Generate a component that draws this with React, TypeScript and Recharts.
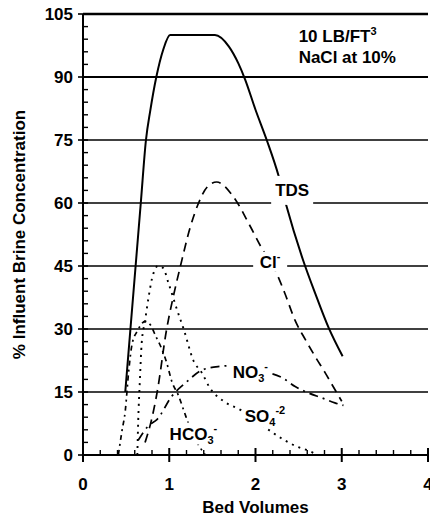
import React from 'react';
import {
  LineChart,
  Line,
  XAxis,
  YAxis,
  ReferenceLine,
  ReferenceDot,
  Label,
} from 'recharts';

// bed volumes (x) and % of influent brine concentration (y)
const tdsX = [0.49, 0.55, 0.61, 0.67, 0.73, 0.78, 0.85, 0.93, 1.01, 1.53, 1.69, 1.8, 1.88, 2.0, 2.13, 2.27, 2.36, 2.55, 2.69, 2.85, 3.01];
const tdsY = [15, 30, 45, 60, 75, 82, 90, 96.5, 100, 100, 97.3, 93.3, 89.4, 82.2, 75, 66.3, 59.2, 46.5, 38.6, 30.2, 23.5];

const clX = [0.72, 0.79, 0.86, 0.97, 1.05, 1.13, 1.24, 1.34, 1.44, 1.55, 1.74, 1.94, 2.06, 2.25, 2.34, 2.46, 2.58, 2.69, 2.81, 2.9, 3.0];
const clY = [3, 8, 15, 30, 38, 45, 54, 60, 63.8, 65, 61.6, 54.4, 49.7, 43, 38.5, 32, 27.4, 23.5, 19.5, 16.3, 12.8];

const no3X = [0.64, 0.76, 0.86, 1.03, 1.19, 1.39, 1.59, 1.75, 2.0, 2.31, 2.46, 2.61, 2.77, 2.92, 3.02];
const no3Y = [3.5, 7, 8.5, 14, 17.2, 20.3, 21.1, 21.3, 20.2, 18.4, 16.3, 14.8, 13.6, 12.4, 11.8];

const so4X = [0.63, 0.64, 0.66, 0.68, 0.72, 0.76, 0.8, 0.87, 0.93, 0.99, 1.09, 1.17, 1.28, 1.38, 1.47, 1.63, 1.82, 2.05, 2.29, 2.48, 2.63, 2.72];
const so4Y = [0, 8, 18, 26.5, 32, 37.5, 42, 45, 44.5, 41, 34.6, 29.8, 22.5, 19.5, 16, 12.8, 10.8, 7.5, 4.1, 2, 0.9, 0];

const hco3X = [0.41, 0.45, 0.49, 0.53, 0.57, 0.63, 0.72, 0.78, 0.85, 0.9, 0.97, 1.03, 1.11, 1.17, 1.25, 1.35, 1.42];
const hco3Y = [0, 5.5, 10.5, 20, 26.5, 29.5, 31.8, 31, 28, 25.9, 22, 17.5, 14, 10.5, 6, 2, 0];

const xTicks = [0, 0.2, 0.4, 0.6, 0.8, 1, 1.2, 1.4, 1.6, 1.8, 2, 2.2, 2.4, 2.6, 2.8, 3, 3.2, 3.4, 3.6, 3.8, 4];
const yTicks = [0, 3, 6, 9, 12, 15, 18, 21, 24, 27, 30, 33, 36, 39, 42, 45, 48, 51, 54, 57, 60, 63, 66, 69, 72, 75, 78, 81, 84, 87, 90, 93, 96, 99, 102, 105];
const thinGrid = [15, 30, 45, 60, 75];
const boldGrid = [90];

const toPoints = (xs: number[], ys: number[]) => xs.map((x, i) => ({ x, y: ys[i] }));

const FONT = "'Liberation Sans', Arial, Helvetica, sans-serif";
const TICK = '#000';

// minor ticks point inward, majors cross the axis and carry the label
function YTick(props: any) {
  const { x, y, payload } = props;
  const v = payload.value;
  if (v % 15 !== 0) {
    return <line x1={x} x2={x + 5} y1={y} y2={y} stroke={TICK} strokeWidth={1.4} />;
  }
  return (
    <g>
      <line x1={x - 5} x2={x + 5} y1={y} y2={y} stroke={TICK} strokeWidth={1.6} />
      <text x={x - 10} y={y + 6} textAnchor="end" fontFamily={FONT} fontWeight="bold" fontSize={17} fill="#000">
        {v}
      </text>
    </g>
  );
}

function XTick(props: any) {
  const { x, y, payload } = props;
  const v = payload.value;
  if (!Number.isInteger(v)) {
    return <line x1={x} x2={x} y1={y - 5} y2={y} stroke={TICK} strokeWidth={1.4} />;
  }
  return (
    <g>
      <line x1={x} x2={x} y1={y - 7} y2={y + 7} stroke={TICK} strokeWidth={2} />
      <text x={x} y={y + 35} textAnchor="middle" fontFamily={FONT} fontWeight="bold" fontSize={17} fill="#000">
        {v}
      </text>
    </g>
  );
}

// white-backed series name sitting on its curve
const tag = (w: number, h: number, content: React.ReactNode) => (p: any) => (
  <g>
    <rect x={p.cx - w / 2} y={p.cy - h / 2} width={w} height={h} fill="#fff" />
    <text x={p.cx} y={p.cy + 6} textAnchor="middle" fontFamily={FONT} fontWeight="bold" fontSize={17} fill="#000">
      {content}
    </text>
  </g>
);

const note = (p: any) => (
  <g fontFamily={FONT} fontWeight="bold" fontSize={17} fill="#000">
    <text x={p.cx} y={p.cy - 4}>
      10 LB/FT<tspan dy={-7} fontSize={11}>3</tspan>
    </text>
    <text x={p.cx} y={p.cy + 17}>NaCl at 10%</text>
  </g>
);

export default function App() {
  return (
    <div style={{ position: 'absolute', left: 0, top: 0, width: 430, height: 517, background: '#fff' }}>
      <LineChart width={430} height={517} margin={{ top: 14, right: 2, left: 0, bottom: 0 }}>
        <XAxis
          dataKey="x"
          type="number"
          domain={[0, 4]}
          ticks={xTicks}
          interval={0}
          height={62}
          tickSize={0}
          tickMargin={0}
          tickLine={false}
          axisLine={{ stroke: '#000', strokeWidth: 2 }}
          tick={(p: any) => <XTick {...p} />}
        >
          <Label
            content={({ viewBox }: any) => (
              <text
                x={viewBox.x + viewBox.width / 2}
                y={viewBox.y + viewBox.height - 4}
                textAnchor="middle"
                fontFamily={FONT}
                fontWeight="bold"
                fontSize={17}
                fill="#000"
              >
                Bed Volumes
              </text>
            )}
          />
        </XAxis>
        <YAxis
          type="number"
          domain={[0, 105]}
          ticks={yTicks}
          interval={0}
          width={83}
          tickSize={0}
          tickMargin={0}
          tickLine={false}
          axisLine={{ stroke: '#000', strokeWidth: 2 }}
          tick={(p: any) => <YTick {...p} />}
        >
          <Label
            content={({ viewBox }: any) => {
              const cx = viewBox.x + 25;
              const cy = viewBox.y + viewBox.height / 2;
              return (
                <text
                  x={cx}
                  y={cy}
                  transform={`rotate(-90 ${cx} ${cy})`}
                  textAnchor="middle"
                  fontFamily={FONT}
                  fontWeight="bold"
                  fontSize={17}
                  fill="#000"
                >
                  % Influent Brine Concentration
                </text>
              );
            }}
          />
        </YAxis>

        {thinGrid.map((v) => (
          <ReferenceLine key={v} y={v} stroke="#000" strokeWidth={1.4} />
        ))}
        {boldGrid.map((v) => (
          <ReferenceLine key={v} y={v} stroke="#000" strokeWidth={2.2} />
        ))}
        <ReferenceLine y={105} stroke="#000" strokeWidth={2.6} />

        <Line data={toPoints(tdsX, tdsY)} dataKey="y" type="monotone" stroke="#000" strokeWidth={2} dot={false} activeDot={false} isAnimationActive={false} />
        <Line data={toPoints(clX, clY)} dataKey="y" type="monotone" stroke="#000" strokeWidth={1.7} strokeDasharray="9 6" dot={false} activeDot={false} isAnimationActive={false} />
        <Line data={toPoints(no3X, no3Y)} dataKey="y" type="monotone" stroke="#000" strokeWidth={1.7} strokeDasharray="9 5 2 5" dot={false} activeDot={false} isAnimationActive={false} />
        <Line data={toPoints(so4X, so4Y)} dataKey="y" type="monotone" stroke="#000" strokeWidth={1.9} strokeDasharray="2 5" dot={false} activeDot={false} isAnimationActive={false} />
        <Line data={toPoints(hco3X, hco3Y)} dataKey="y" type="monotone" stroke="#000" strokeWidth={1.7} strokeDasharray="5 4 2 4" dot={false} activeDot={false} isAnimationActive={false} />

        <ReferenceDot x={2.425} y={63} r={1} shape={tag(42, 29, 'TDS')} />
        <ReferenceDot
          x={2.17}
          y={46}
          r={1}
          shape={tag(34, 20, <>Cl<tspan dy={-8} fontSize={11}>-</tspan></>)}
        />
        <ReferenceDot
          x={1.94}
          y={19.8}
          r={1}
          shape={tag(40, 22, <>NO<tspan dy={4} fontSize={11}>3</tspan><tspan dy={-12} fontSize={11}>-</tspan></>)}
        />
        <ReferenceDot
          x={2.11}
          y={9.4}
          r={1}
          shape={tag(46, 24, <>SO<tspan dy={4} fontSize={11}>4</tspan><tspan dy={-12} fontSize={11}>-2</tspan></>)}
        />
        <ReferenceDot
          x={1.28}
          y={5.1}
          r={1}
          shape={tag(52, 22, <>HCO<tspan dy={4} fontSize={11}>3</tspan><tspan dy={-12} fontSize={11}>-</tspan></>)}
        />
        <ReferenceDot x={2.5} y={97.5} r={1} shape={note} />
      </LineChart>
    </div>
  );
}
